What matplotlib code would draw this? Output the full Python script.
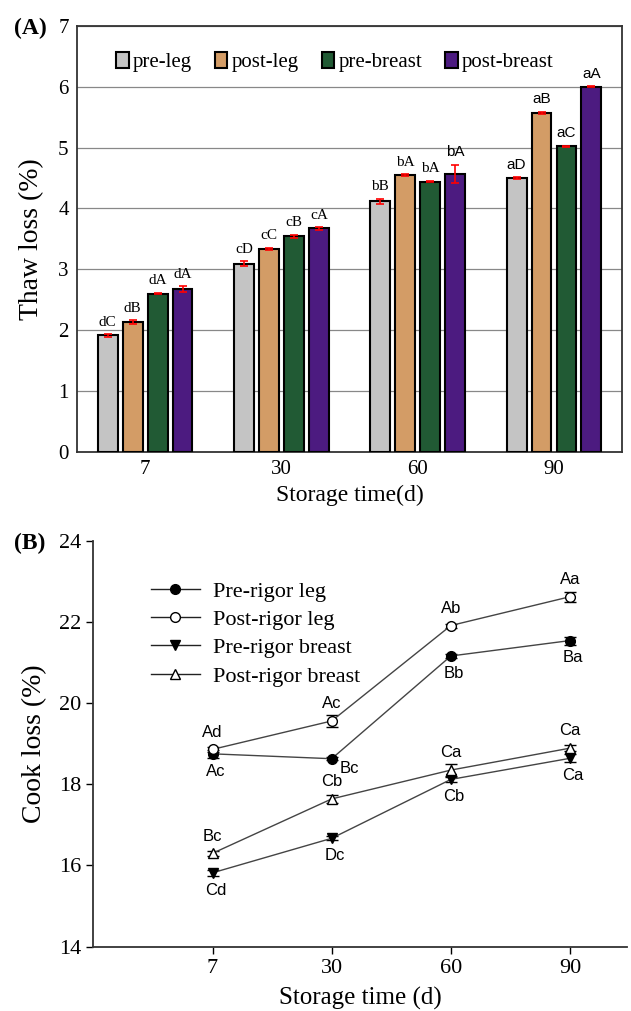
import matplotlib
matplotlib.use("Agg")
import matplotlib.pyplot as plt
from matplotlib.lines import Line2D
import numpy as np

# ---------------- Data: Panel A (thaw loss) ----------------
days = ["7", "30", "60", "90"]
series_a = ["pre-leg", "post-leg", "pre-breast", "post-breast"]
pre_leg = [1.91, 3.09, 4.12, 4.50]
post_leg = [2.13, 3.33, 4.55, 5.57]
pre_breast = [2.60, 3.54, 4.44, 5.02]
post_breast = [2.67, 3.67, 4.57, 6.00]
err_pre_leg = [0.02, 0.04, 0.04, 0.01]
err_post_leg = [0.03, 0.02, 0.01, 0.02]
err_pre_breast = [0.01, 0.03, 0.01, 0.01]
err_post_breast = [0.05, 0.02, 0.15, 0.01]
lab_pre_leg = ["dC", "cD", "bB", "aD"]
lab_post_leg = ["dB", "cC", "bA", "aB"]
lab_pre_breast = ["dA", "cB", "bA", "aC"]
lab_post_breast = ["dA", "cA", "bA", "aA"]

# ---------------- Data: Panel B (cook loss) ----------------
series_b = ["Pre-rigor leg", "Post-rigor leg", "Pre-rigor breast", "Post-rigor breast"]
cook_pre_leg = [18.75, 18.63, 21.16, 21.54]
cook_post_leg = [18.86, 19.56, 21.91, 22.62]
cook_pre_breast = [15.82, 16.67, 18.12, 18.64]
cook_post_breast = [16.30, 17.64, 18.35, 18.89]
cerr_pre_leg = [0.10, 0.04, 0.05, 0.10]
cerr_post_leg = [0.06, 0.15, 0.05, 0.12]
cerr_pre_breast = [0.08, 0.05, 0.06, 0.10]
cerr_post_breast = [0.06, 0.10, 0.15, 0.08]
clab_pre_leg = ["Ac", "Bc", "Bb", "Ba"]
clab_post_leg = ["Ad", "Ac", "Ab", "Aa"]
clab_pre_breast = ["Cd", "Dc", "Cb", "Ca"]
clab_post_breast = ["Bc", "Cb", "Ca", "Ca"]

serif = ["Liberation Serif", "DejaVu Serif"]
sans = ["Liberation Sans", "DejaVu Sans"]

fig = plt.figure(figsize=(6.31, 10.11), dpi=100)

# ================= Panel A =================
axA = fig.add_axes([0.122, 0.5533, 0.864, 0.4210])
x = np.arange(len(days))
step = 0.183
width = 0.146
colors = ["#c4c4c4", "#d39c66", "#215a34", "#4c1b80"]
vals = [pre_leg, post_leg, pre_breast, post_breast]
errs = [err_pre_leg, err_post_leg, err_pre_breast, err_post_breast]
labs = [lab_pre_leg, lab_post_leg, lab_pre_breast, lab_post_breast]
for i, (name, v, e, lb, c) in enumerate(zip(series_a, vals, errs, labs, colors)):
    pos = x + (i - 1.5) * step
    axA.bar(pos, v, width=width, color=c, edgecolor="black", linewidth=1.5,
            label=name, zorder=3)
    axA.errorbar(pos, v, yerr=e, fmt="none", ecolor="red", elinewidth=1.2,
                 capsize=3, capthick=1.2, zorder=4)
    for j, (p, val, er, t) in enumerate(zip(pos, v, e, lb)):
        fam = sans if (j == 3 or (j == 2 and i == 3)) else serif
        axA.annotate(t, (p, val + er), xytext=(0, 4), textcoords="offset points",
                     ha="center", va="bottom", fontsize=11, family=fam)

axA.set_xlim(-0.5, 3.5)
axA.set_ylim(0, 7)
axA.set_yticks(range(0, 8))
axA.set_xticks(x)
axA.set_xticklabels(days)
axA.yaxis.grid(True, color="#888888", linewidth=0.9, zorder=0)
axA.set_axisbelow(True)
axA.tick_params(axis="both", length=0, labelsize=15, pad=6)
for lbl in axA.get_xticklabels() + axA.get_yticklabels():
    lbl.set_family(serif)
for sp in axA.spines.values():
    sp.set_linewidth(1.3)
    sp.set_color("#333333")
axA.set_ylabel("Thaw loss (%)", fontsize=20, family=serif, labelpad=10)
axA.set_xlabel("Storage time(d)", fontsize=17, family=serif, labelpad=4)
axA.legend(loc="center", bbox_to_anchor=(0.473, 0.915), ncol=4, frameon=False,
           prop={"family": serif, "size": 15}, handlelength=0.6,
           handleheight=0.8, handletextpad=0.2, columnspacing=1.1)
fig.text(0.022, 0.972, "(A)", fontsize=17, fontweight="bold", family=serif,
         ha="left", va="center")

# ================= Panel B =================
axB = fig.add_axes([0.148, 0.0636, 0.846, 0.4016])
cvals = [cook_pre_leg, cook_post_leg, cook_pre_breast, cook_post_breast]
cerrs = [cerr_pre_leg, cerr_post_leg, cerr_pre_breast, cerr_post_breast]
clabs = [clab_pre_leg, clab_post_leg, clab_pre_breast, clab_post_breast]
markers = ["o", "o", "v", "^"]
mfcs = ["black", "white", "black", "white"]
above = [False, True, False, True]
handles = []
for name, v, e, lb, m, fc, up in zip(series_b, cvals, cerrs, clabs, markers, mfcs, above):
    axB.errorbar(x, v, yerr=e, color="#444444", linewidth=1.0, marker=m,
                 markersize=7, markerfacecolor=fc, markeredgecolor="black",
                 markeredgewidth=1.0, ecolor="black", elinewidth=1.0,
                 capsize=4, capthick=1.0, zorder=3)
    handles.append(Line2D([], [], color="#222222", linewidth=1.0, marker=m,
                          markersize=7, markerfacecolor=fc,
                          markeredgecolor="black", label=name))
    for j, (xx, val, t) in enumerate(zip(x, v, lb)):
        if up:
            axB.annotate(t, (xx, val), xytext=(0, 7), textcoords="offset points",
                         ha="center", va="bottom", fontsize=12, family=sans)
        elif name == "Pre-rigor leg" and j == 1:
            axB.annotate(t, (xx, val), xytext=(6, -2), textcoords="offset points",
                         ha="left", va="top", fontsize=12, family=sans)
        else:
            axB.annotate(t, (xx, val), xytext=(2, -7), textcoords="offset points",
                         ha="center", va="top", fontsize=12, family=sans)

axB.set_xlim(-1.0, 3.48)
axB.set_ylim(14, 24)
axB.set_yticks(range(14, 25, 2))
axB.set_xticks(x)
axB.set_xticklabels(days)
axB.spines["top"].set_visible(False)
axB.spines["right"].set_visible(False)
for sp in ["left", "bottom"]:
    axB.spines[sp].set_linewidth(1.3)
    axB.spines[sp].set_color("#333333")
axB.tick_params(axis="both", direction="out", length=5, width=1.0,
                labelsize=16, pad=4)
for lbl in axB.get_xticklabels() + axB.get_yticklabels():
    lbl.set_family(serif)
axB.set_ylabel("Cook loss (%)", fontsize=20, family=serif, labelpad=8)
axB.set_xlabel("Storage time (d)", fontsize=18, family=serif, labelpad=6)
axB.legend(handles=handles, loc="upper left", bbox_to_anchor=(0.07, 0.95),
           frameon=False, prop={"family": serif, "size": 16}, handlelength=2.2,
           labelspacing=0.35, handletextpad=0.6)
fig.text(0.022, 0.462, "(B)", fontsize=17, fontweight="bold", family=serif,
         ha="left", va="center")

fig.savefig("out.png", dpi=100)
